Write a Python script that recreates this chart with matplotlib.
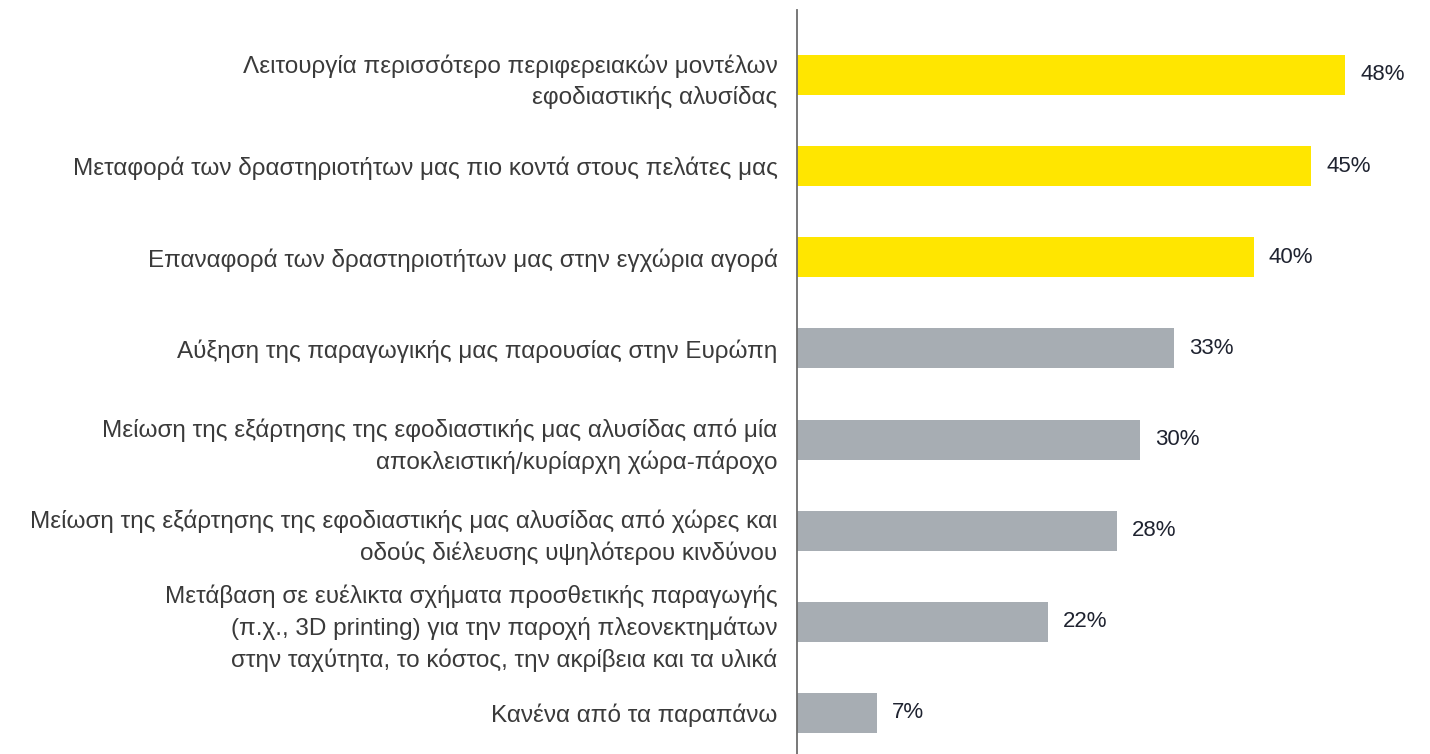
import matplotlib
matplotlib.use('Agg')
from matplotlib import pyplot as plt
from matplotlib import font_manager

# data
labels = [
    'Λειτουργία περισσότερο περιφερειακών μοντέλων\nεφοδιαστικής αλυσίδας',
    'Μεταφορά των δραστηριοτήτων μας πιο κοντά στους πελάτες μας',
    'Επαναφορά των δραστηριοτήτων μας στην εγχώρια αγορά',
    'Αύξηση της παραγωγικής μας παρουσίας στην Ευρώπη',
    'Μείωση της εξάρτησης της εφοδιαστικής μας αλυσίδας από μία\nαποκλειστική/κυρίαρχη χώρα-πάροχο',
    'Μείωση της εξάρτησης της εφοδιαστικής μας αλυσίδας από χώρες και\nοδούς διέλευσης υψηλότερου κινδύνου',
    'Μετάβαση σε ευέλικτα σχήματα προσθετικής παραγωγής\n(π.χ., 3D printing) για την παροχή πλεονεκτημάτων\nστην ταχύτητα, το κόστος, την ακρίβεια και τα υλικά',
    'Κανένα από τα παραπάνω',
]
values = [48, 45, 40, 33, 30, 28, 22, 7]
highlight = [True, True, True, False, False, False, False, False]

yellow = '#FFE600'
grey = '#A7ADB3'

names = {f.name for f in font_manager.fontManager.ttflist}
family = 'Liberation Sans Narrow' if 'Liberation Sans Narrow' in names else 'Liberation Sans'
plt.rcParams['font.family'] = [family, 'DejaVu Sans']

fig = plt.figure(figsize=(14.3, 7.54), dpi=100)
ax = fig.add_axes([797 / 1430, 0, 633 / 1430, 1 - 10 / 754])

ypos = list(range(len(values)))
colors = [yellow if h else grey for h in highlight]
ax.barh(ypos, values, height=0.44, color=colors, zorder=2)

for y, v in zip(ypos, values):
    ax.text(v + 1.3, y, f'{v}%', va='center', ha='left', fontsize=16, color='#1f2330')

ax.set_yticks(ypos)
ax.set_yticklabels(labels, fontsize=17.5, color='#3a3a3a', linespacing=1.45)
ax.tick_params(axis='y', length=0, pad=14)
ax.set_xticks([])
ax.set_xlim(0, 55.4)
ax.set_ylim(7.45, -0.713)

for s in ['top', 'right', 'bottom']:
    ax.spines[s].set_visible(False)
ax.spines['left'].set_color('#6d6d6d')
ax.spines['left'].set_linewidth(1.3)

fig.savefig('out.png', dpi=100)
